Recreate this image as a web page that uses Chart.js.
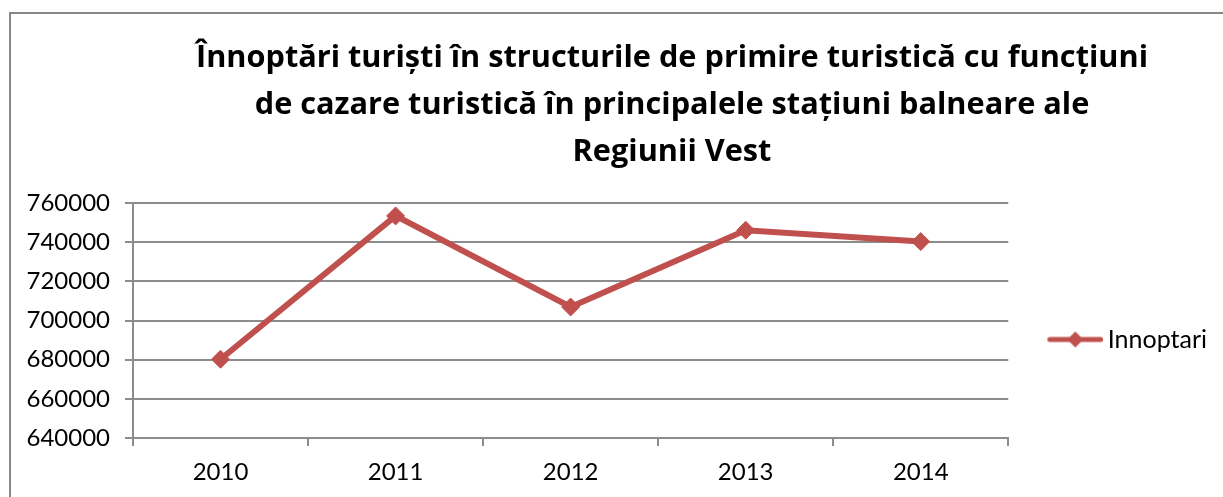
<!DOCTYPE html>
<html>
<head>
<meta charset="utf-8">
<script src="https://cdn.jsdelivr.net/npm/chart.js@4"></script>
<style>
    html, body { margin: 0; padding: 0; background: #fff; overflow: hidden; }
    .frame {
        position: absolute; left: 9px; top: 12px; width: 1400px; height: 600px;
        border-left: 2px solid #878787; border-top: 2px solid #878787;
    }
    .wrap { position: absolute; left: 0; top: 0; width: 1223px; height: 497px; }
</style>
</head>
<body>
<div class="frame"></div>
<div class="wrap"><canvas id="lineChart"></canvas></div>
<script>
    // chart data
    const years = ['2010', '2011', '2012', '2013', '2014'];
    const innoptari = [680200, 753400, 706900, 746100, 740300];
    const seriesName = 'Innoptari';
    const titleLines = [
        'Înnoptări turiști în structurile de primire turistică cu funcțiuni',
        'de cazare turistică în principalele stațiuni balneare ale',
        'Regiunii Vest'
    ];

    const RED = '#C0504D';
    const GRID = '#8c8c8c';
    const FONT = 'Lato, "Open Sans", sans-serif';
    const TITLE_FONT = '"Open Sans", Lato, sans-serif';

    // legend marker: a short line with a diamond on it, like the Excel one
    function legendMarker() {
        const c = document.createElement('canvas');
        c.width = 64;
        c.height = 20;
        const g = c.getContext('2d');
        g.strokeStyle = RED;
        g.lineWidth = 5;
        g.lineCap = 'round';
        g.beginPath();
        g.moveTo(10.5, 10);
        g.lineTo(61.5, 10);
        g.stroke();
        g.fillStyle = RED;
        g.beginPath();
        g.moveTo(36, 2);
        g.lineTo(44, 10);
        g.lineTo(36, 18);
        g.lineTo(28, 10);
        g.closePath();
        g.fill();
        return c;
    }

    // Excel centres the title on a wider frame and drops the legend a bit lower
    const nudgeBoxes = {
        id: 'nudgeBoxes',
        afterLayout(chart) {
            const t = chart.titleBlock;
            t.left += 63.5;
            t.right += 63.5;
            const l = chart.legend;
            l.top += 19;
            l.bottom += 19;
        }
    };

    const ctx = document.getElementById('lineChart').getContext('2d');
    const chart = new Chart(ctx, {
        type: 'line',
        data: {
            labels: years,
            datasets: [{
                label: seriesName,
                data: innoptari,
                borderColor: RED,
                backgroundColor: RED,
                borderWidth: 6,
                pointStyle: 'rectRot',
                pointRadius: 9,
                pointBorderWidth: 1,
                pointBackgroundColor: RED,
                pointBorderColor: RED,
                tension: 0
            }]
        },
        options: {
            responsive: true,
            maintainAspectRatio: false,
            animation: false,
            layout: { padding: { left: 0, top: 0, bottom: 0, right: 6 } },
            plugins: {
                title: {
                    display: true,
                    text: titleLines,
                    color: '#000',
                    font: { family: TITLE_FONT, size: 30.7, weight: 'bold', lineHeight: '47px' },
                    padding: { top: 35, bottom: 27 }
                },
                legend: {
                    position: 'right',
                    fullSize: false,
                    labels: {
                        usePointStyle: true,
                        pointStyle: legendMarker(),
                        pointStyleWidth: 48,
                        padding: 39,
                        color: '#000',
                        font: { family: FONT, size: 25 }
                    }
                },
                tooltip: { enabled: false }
            },
            scales: {
                x: {
                    offset: true,
                    grid: {
                        offset: true,
                        drawOnChartArea: false,
                        drawTicks: true,
                        tickLength: 8,
                        color: GRID,
                        lineWidth: 2
                    },
                    border: { display: true, color: GRID, width: 2 },
                    ticks: {
                        color: '#000',
                        padding: 12,
                        font: { family: FONT, size: 24 }
                    },
                    afterFit: (scale) => { scale.height = 59; }
                },
                y: {
                    min: 640000,
                    max: 760000,
                    ticks: {
                        stepSize: 20000,
                        color: '#000',
                        padding: 15,
                        font: { family: FONT, size: 24 },
                        callback: (v) => String(v)
                    },
                    grid: {
                        drawTicks: true,
                        tickLength: 8,
                        color: GRID,
                        lineWidth: 2
                    },
                    border: { display: true, color: GRID, width: 2 },
                    afterFit: (scale) => { scale.width = 133; }
                }
            }
        },
        plugins: [nudgeBoxes]
    });
</script>
</body>
</html>
